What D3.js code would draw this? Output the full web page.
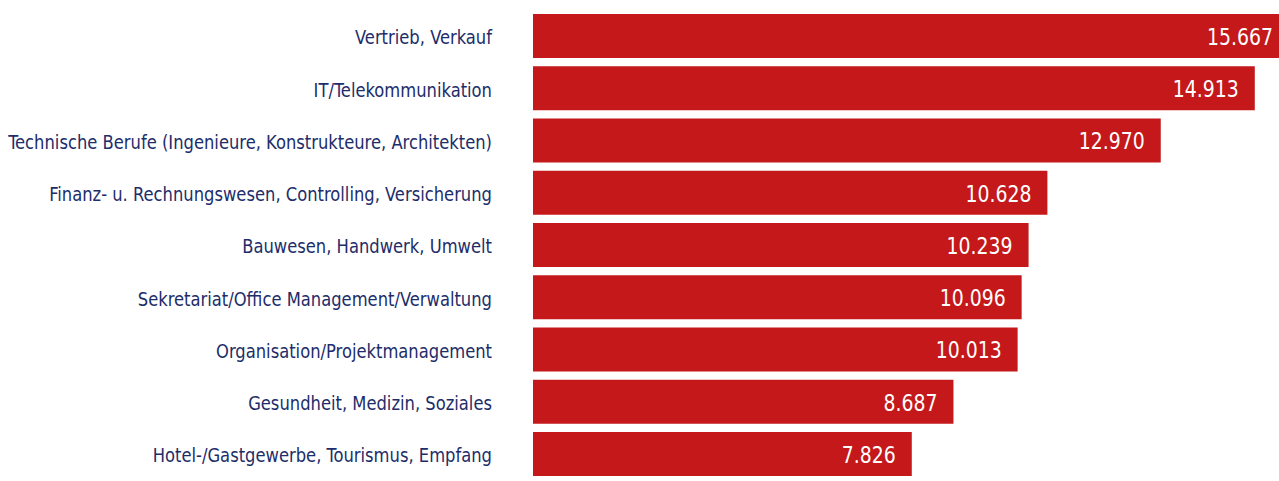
<!DOCTYPE html>
<html>
<head>
<meta charset="utf-8">
<script src="https://cdn.jsdelivr.net/npm/d3@7"></script>
<style>
  body { margin: 0; background: #fff; }
  text { font-family: "DejaVu Sans Condensed", "DejaVu Sans", sans-serif; }
</style>
</head>
<body>
<script>
const WIDTH = 1279;
const HEIGHT = 481;

// Berufsfelder und Werte
const kategorien = [
  "Vertrieb, Verkauf",
  "IT/Telekommunikation",
  "Technische Berufe (Ingenieure, Konstrukteure, Architekten)",
  "Finanz- u. Rechnungswesen, Controlling, Versicherung",
  "Bauwesen, Handwerk, Umwelt",
  "Sekretariat/Office Management/Verwaltung",
  "Organisation/Projektmanagement",
  "Gesundheit, Medizin, Soziales",
  "Hotel-/Gastgewerbe, Tourismus, Empfang"
];
const werte = [15667, 14913, 12970, 10628, 10239, 10096, 10013, 8687, 7826];

const datos = kategorien.map((k, i) => ({ kategorie: k, wert: werte[i] }));

const svg = d3
  .select("body")
  .append("svg")
  .attr("width", WIDTH)
  .attr("height", HEIGHT);

// Escalas
const x = d3.scaleLinear().domain([0, 10000]).range([533, 533 + 484]);
const y = d3
  .scaleBand()
  .domain(kategorien)
  .range([14, 476])
  .paddingInner(0.158)
  .paddingOuter(0);

const formato = d3.formatLocale({ decimal: ",", thousands: ".", grouping: [3] }).format(",");

svg
  .selectAll("rect")
  .data(datos)
  .join("rect")
  .attr("x", x(0))
  .attr("y", (d) => y(d.kategorie))
  .attr("width", (d) => x(d.wert) - x(0))
  .attr("height", y.bandwidth())
  .attr("fill", "#c4181a");

// Etiquetas de categorias (comprimidas horizontalmente como la fuente condensada)
const kat = svg
  .selectAll("g.kat")
  .data(datos)
  .join("g")
  .attr("class", "kat");

kat
  .append("text")
  .attr("dy", "0.42em")
  .attr("text-anchor", "end")
  .attr("font-size", 20)
  .attr("fill", "#1d2d6a")
  .text((d) => d.kategorie);

let maxAncho = 0;
kat.selectAll("text").each(function () {
  maxAncho = Math.max(maxAncho, this.getComputedTextLength());
});
const escalaKat = 484 / maxAncho;
kat.attr(
  "transform",
  (d) => `translate(492,${y(d.kategorie) + y.bandwidth() / 2}) scale(${escalaKat},1)`
);

// Valores dentro de las barras
const val = svg
  .selectAll("g.val")
  .data(datos)
  .join("g")
  .attr("class", "val");

val
  .append("text")
  .attr("dy", "0.38em")
  .attr("text-anchor", "end")
  .attr("font-size", 23)
  .attr("fill", "#fff")
  .text((d) => formato(d.wert));

let anchoRef = 0;
val.filter((d, i) => i === 1).select("text").each(function () {
  anchoRef = this.getComputedTextLength();
});
const escalaVal = 66 / anchoRef;
val.attr(
  "transform",
  (d) =>
    `translate(${Math.min(x(d.wert) - 16, WIDTH - 6)},${y(d.kategorie) + y.bandwidth() / 2}) scale(${escalaVal},1)`
);
</script>
</body>
</html>
